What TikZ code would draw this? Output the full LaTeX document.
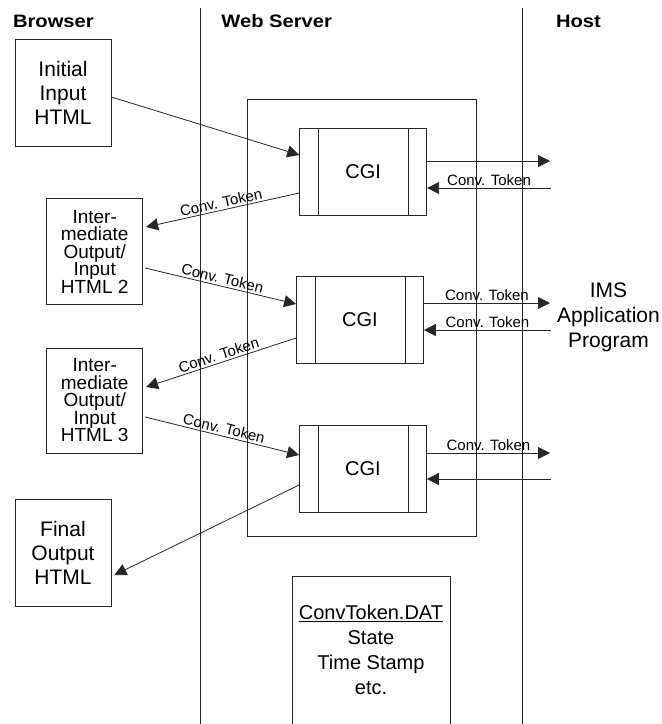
\documentclass[tikz,border=0pt]{standalone}
\usepackage{fontspec}
\setmainfont{Liberation Sans}
\newfontfamily\headfont[FakeStretch=1.12]{Liberation Sans}
\usepackage{tikz}
\usetikzlibrary{arrows.meta,calc}
\lineskiplimit=-10pt
\tikzset{
  arr/.style={draw=black!85, -{Triangle[length=12pt,width=12pt]}},
  tok/.style={font=\fontsize{15}{15}\selectfont, sloped, above, inner sep=2pt}
}

\begin{document}
\begin{tikzpicture}[x=1pt,y=-1pt,line width=0.8pt,
    page/.style = {draw=black!85, minimum width=96pt, minimum height=107pt, inner sep=0pt, align=center, font=\fontsize{21}{24}\selectfont},
    inter/.style = {page, font=\fontsize{19}{17.5}\selectfont},
    cgi/.style = {draw=black!85, minimum width=127pt, minimum height=87pt, inner sep=0pt, font=\fontsize{20}{20}\selectfont},
    head/.style = {anchor=base west, inner sep=0pt, font=\headfont\bfseries\fontsize{18}{18}\selectfont}]
      \useasboundingbox (0, 0) rectangle (662, 724);

      \node[head] at (12.7, 27)(hbrowser){Browser};
      \node[head] at (221, 27)(hserver){Web Server};
      \node[head] at (555.7, 27)(hhost){Host};

      \draw[black!85] (200, 8) -- (200, 730);
      \draw[black!85] (522, 8) -- (522, 730);

      \node[draw=black!85, minimum width=229pt, minimum height=437pt, inner sep=0pt] at (361.5, 317.5)(server){};

      \node[page] at (63, 92.5)(init){Initial\\Input\\HTML};
      \node[inter, minimum height=106pt] at (94.7, 251.5)(inter2){Inter-\\mediate\\Output/\\Input\\HTML 2};
      \node[inter, minimum height=105pt] at (94.7, 400.5)(inter3){Inter-\\mediate\\Output/\\Input\\HTML 3};
      \node[page] at (63, 552.5)(final){Final\\Output\\HTML};

      \node[cgi] at (363.2, 171.5)(cgi1){CGI};
      \node[cgi] at (360, 319.5)(cgi2){CGI};
      \node[cgi] at (363, 469)(cgi3){CGI};
      \foreach \c in {cgi1,cgi2,cgi3}{
        \draw[black!85] ([xshift=19pt]\c.north west) -- ([xshift=19pt]\c.south west);
        \draw[black!85] ([xshift=-19pt]\c.north east) -- ([xshift=-19pt]\c.south east);
      }

      \node[align=center, inner sep=0pt, font=\fontsize{21}{25}\selectfont] at (608.5, 317)(ims){IMS\\Application\\Program};

      \draw[black!85] (292, 730) |- (450, 576) -- (450, 730);
      \node[align=center, inner sep=0pt, font=\fontsize{20}{25}\selectfont] at (371, 650)(dat){\underline{ConvToken.DAT}\\State\\Time Stamp\\etc.};

      \coordinate (h1o) at (550, 161);
      \coordinate (h1i) at (551, 188);
      \coordinate (h2o) at (550, 303);
      \coordinate (h2i) at (551, 330);
      \coordinate (h3o) at (550, 453);
      \coordinate (h3i) at (551, 479);

      \path[every edge/.style=arr]
      ([yshift=-4.5pt]init.east) edge ([yshift=16.5pt]cgi1.west)
      ([yshift=-21.5pt]cgi1.west) edge node[tok]{Conv. Token} ([xshift=3pt,yshift=24.5pt]inter2.east)
      ([xshift=2pt,yshift=-16.5pt]inter2.east) edge node[tok]{Conv. Token} ([yshift=15.5pt]cgi2.west)
      ([yshift=-18.5pt]cgi2.west) edge node[tok]{Conv. Token} ([xshift=3pt,yshift=13.5pt]inter3.east)
      ([xshift=2pt,yshift=-16.5pt]inter3.east) edge node[tok]{Conv. Token} ([yshift=14pt]cgi3.west)
      ([yshift=-16pt]cgi3.west) edge ([xshift=3pt,yshift=-22.5pt]final.east)

      (cgi1.east |- h1o) edge (h1o)
      (h1i) edge node[tok]{Conv. Token} (cgi1.east |- h1i)
      (cgi2.east |- h2o) edge node[tok]{Conv. Token} (h2o)
      (h2i) edge node[tok]{Conv. Token} (cgi2.east |- h2i)
      (cgi3.east |- h3o) edge node[tok]{Conv. Token} (h3o)
      (h3i) edge (cgi3.east |- h3i)
      ;

    \end{tikzpicture}
\end{document}
